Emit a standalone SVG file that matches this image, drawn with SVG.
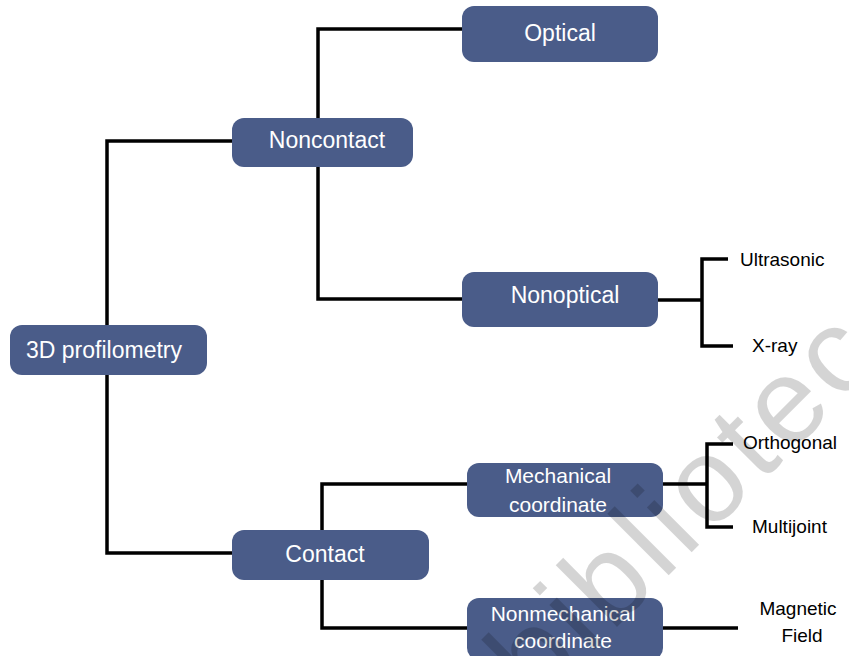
<svg xmlns="http://www.w3.org/2000/svg" width="849" height="656" viewBox="0 0 849 656">
  <style>
    .box { fill: #4a5c89; }
    .lbl { font-family: "Liberation Sans", Arial, sans-serif; fill: #ffffff; text-anchor: middle; }
    .big { font-size: 23px; }
    .mid { font-size: 21px; }
    .leaf { font-family: "Liberation Sans", Arial, sans-serif; font-size: 19px; fill: #000000; }
    .conn { fill: none; stroke: #000000; stroke-width: 3.5; stroke-linejoin: miter; }
  </style>
  <rect width="849" height="656" fill="#ffffff"/>
  <g id="connectors">
    <path class="conn" d="M232,141 H107 V553 H232"/>
    <path class="conn" d="M462,29 H318 V299 H462"/>
    <path class="conn" d="M467,484 H322 V628 H467"/>
    <path class="conn" d="M658,300 H702"/>
    <path class="conn" d="M728,259 H702 V346 H733"/>
    <path class="conn" d="M663,484 H707"/>
    <path class="conn" d="M733,444 H707 V527 H733"/>
    <path class="conn" d="M663,628 H738"/>
  </g>
  <g id="root">
    <rect class="box" x="10" y="325" width="197" height="50" rx="12"/>
    <text class="lbl big" x="104" y="358">3D profilometry</text>
  </g>
  <g id="noncontact">
    <rect class="box" x="232" y="118" width="181" height="49" rx="12"/>
    <text class="lbl big" x="327" y="148">Noncontact</text>
  </g>
  <g id="optical">
    <rect class="box" x="462" y="6" width="196" height="56" rx="12"/>
    <text class="lbl big" x="560" y="41">Optical</text>
  </g>
  <g id="nonoptical">
    <rect class="box" x="462" y="272" width="196" height="55" rx="12"/>
    <text class="lbl big" x="565" y="303">Nonoptical</text>
  </g>
  <g id="contact">
    <rect class="box" x="232" y="530" width="197" height="50" rx="12"/>
    <text class="lbl big" x="325" y="562">Contact</text>
  </g>
  <g id="mechanical">
    <rect class="box" x="467" y="463" width="196" height="54" rx="12"/>
    <text class="lbl mid" x="558" y="483">Mechanical</text>
    <text class="lbl mid" x="558" y="512">coordinate</text>
  </g>
  <g id="nonmechanical">
    <rect class="box" x="467" y="598" width="196" height="62" rx="12"/>
    <text class="lbl mid" x="563" y="621">Nonmechanical</text>
    <text class="lbl mid" x="563" y="648">coordinate</text>
  </g>
  <g id="ultrasonic"><text class="leaf" x="740" y="266">Ultrasonic</text></g>
  <g id="xray"><text class="leaf" x="752" y="352">X-ray</text></g>
  <g id="orthogonal"><text class="leaf" x="743" y="449">Orthogonal</text></g>
  <g id="multijoint"><text class="leaf" x="752" y="533">Multijoint</text></g>
  <g id="magnetic">
    <text class="leaf" x="798" y="615" text-anchor="middle">Magnetic</text>
    <text class="leaf" x="802" y="642" text-anchor="middle">Field</text>
  </g>
  <text transform="translate(537,707) rotate(-45)" font-family="Liberation Sans, Arial, sans-serif" font-size="120" fill="#000000" fill-opacity="0.17" letter-spacing="6">biblioteca</text>
</svg>
